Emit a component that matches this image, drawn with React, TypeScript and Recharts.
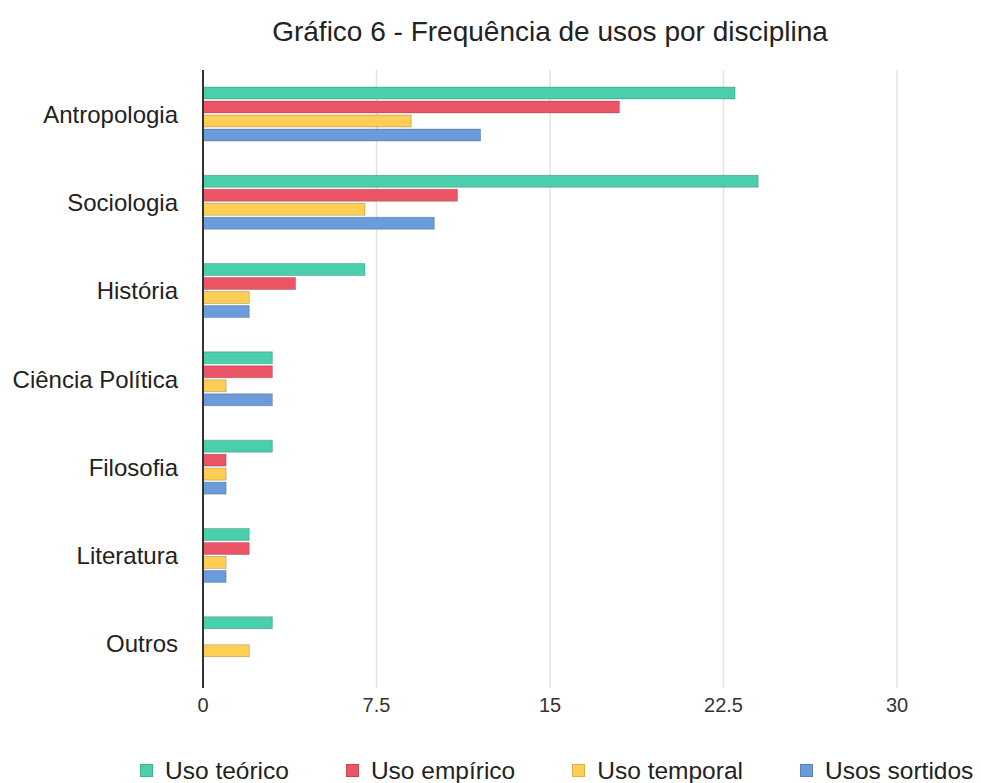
import React from 'react';
import { BarChart, Bar, XAxis, YAxis, CartesianGrid, Legend } from 'recharts';

const categories = ['Antropologia', 'Sociologia', 'História', 'Ciência Política', 'Filosofia', 'Literatura', 'Outros'];
const usoTeorico = [23, 24, 7, 3, 3, 2, 3];
const usoEmpirico = [18, 11, 4, 3, 1, 2, 0];
const usoTemporal = [9, 7, 2, 1, 1, 1, 2];
const usosSortidos = [12, 10, 2, 3, 1, 1, 0];
const xTicks = [0, 7.5, 15, 22.5, 30];

const seriesNames = ['Uso teórico', 'Uso empírico', 'Uso temporal', 'Usos sortidos'];
const seriesColors = ['#4acfac', '#ec5565', '#ffce54', '#6a9bdb'];

const data = categories.map((c, i) => ({
  name: c,
  s0: usoTeorico[i],
  s1: usoEmpirico[i],
  s2: usoTemporal[i],
  s3: usosSortidos[i],
}));

const FONT = '"Liberation Sans", Arial, Helvetica, sans-serif';

const LegendContent = () => (
  <div style={{ height: 65, paddingTop: 40, boxSizing: 'border-box', paddingLeft: 140, display: 'flex', alignItems: 'center', fontFamily: FONT, fontSize: 24.5, color: '#222' }}>
    {seriesNames.map((n, i) => (
      <div key={n} style={{ display: 'flex', alignItems: 'center', marginRight: 57, height: 24 }}>
        <span style={{ display: 'inline-block', width: 13, height: 13, background: seriesColors[i], border: '1px solid rgba(0,0,0,0.15)', boxSizing: 'border-box', marginRight: 12 }} />
        <span style={{ whiteSpace: 'nowrap' }}>{n}</span>
      </div>
    ))}
  </div>
);

export default function App() {
  return (
    <div style={{ position: 'absolute', left: 0, top: 0, width: 981, height: 783, background: '#fff' }}>
      <div style={{ position: 'absolute', left: 0, width: 1100, top: 15, textAlign: 'center', fontFamily: FONT, fontSize: 28, color: '#222', lineHeight: '34px', whiteSpace: 'nowrap' }}>
        Gráfico 6 - Frequência de usos por disciplina
      </div>
      <BarChart
        width={981}
        height={783}
        data={data}
        layout="vertical"
        margin={{ top: 70, right: 84, left: 0, bottom: 0 }}
        barSize={12}
        barGap={2}
      >
        <CartesianGrid horizontal={false} stroke="#e3e3e3" strokeWidth={1.5} />
        <XAxis
          type="number"
          domain={[0, 30]}
          ticks={xTicks}
          axisLine={false}
          tickLine={false}
          tickSize={0}
          tickMargin={10}
          height={30}
          interval={0}
          tick={{ fontFamily: FONT, fontSize: 20, fill: '#333' }}
        />
        <YAxis
          type="category"
          dataKey="name"
          width={203}
          axisLine={{ stroke: '#333', strokeWidth: 2 }}
          tickLine={false}
          tickSize={0}
          tickMargin={25}
          interval={0}
          tick={{ fontFamily: FONT, fontSize: 24, fill: '#222' }}
        />
        <Legend verticalAlign="bottom" wrapperStyle={{ left: 0, width: 981, bottom: 0 }} content={<LegendContent />} />
        {['s0', 's1', 's2', 's3'].map((k, i) => (
          <Bar key={k} dataKey={k} name={seriesNames[i]} fill={seriesColors[i]} stroke="rgba(0,0,0,0.2)" strokeWidth={1} isAnimationActive={false} />
        ))}
      </BarChart>
    </div>
  );
}
